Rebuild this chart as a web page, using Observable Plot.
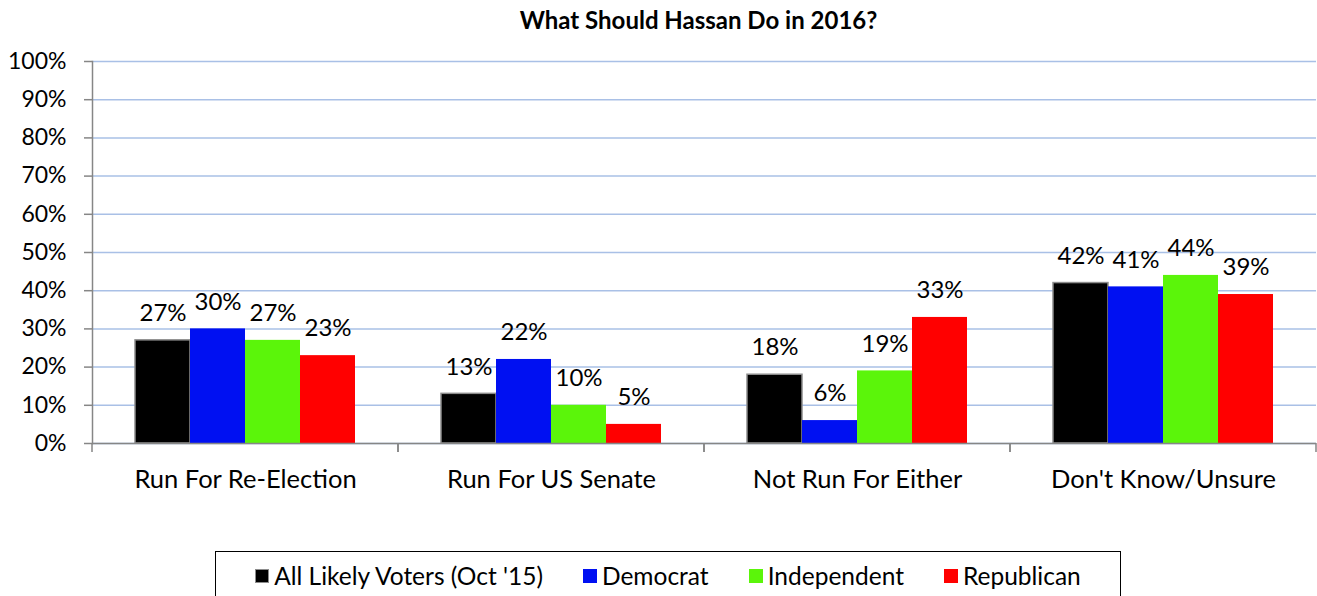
<!DOCTYPE html>
<html>
<head>
<meta charset="utf-8">
<script src="https://cdn.jsdelivr.net/npm/d3@7"></script>
<script src="https://cdn.jsdelivr.net/npm/@observablehq/plot@0.6"></script>
<style>
  html, body { margin: 0; padding: 0; background: #fff; }
  #wrap { position: relative; width: 1317px; height: 596px; overflow: hidden; font-family: Lato, "Open Sans", sans-serif; }
  #title { position: absolute; left: 80px; top: 0; width: 1237px; height: 40px; line-height: 40px; text-align: center; font-weight: bold; font-size: 24px; color: #000; }
  #chart { position: absolute; left: 0; top: 40px; }
  #legend { position: absolute; left: 215px; top: 551px; width: 906px; height: 60px; border: 1.5px solid #000; box-sizing: border-box; display: flex; justify-content: center; align-items: flex-start; gap: 40px; padding-top: 9px; font-size: 24.5px; color: #000; }
  .item { display: flex; align-items: center; }
  .sw { width: 14px; height: 14px; margin-right: 5px; box-sizing: border-box; }
</style>
</head>
<body>
<div id="wrap">
  <div id="title">What Should Hassan Do in 2016?</div>
  <div id="chart"></div>
  <div id="legend"></div>
</div>
<script>
const categories = ["Run For Re-Election", "Run For US Senate", "Not Run For Either", "Don't Know/Unsure"];
const seriesNames = ["All Likely Voters (Oct '15)", "Democrat", "Independent", "Republican"];
const allVoters = [27, 13, 18, 42];
const democrat = [30, 22, 6, 41];
const independent = [27, 10, 19, 44];
const republican = [23, 5, 33, 39];
const yTicks = [0, 10, 20, 30, 40, 50, 60, 70, 80, 90, 100];
const colors = ["#000000", "#0010F2", "#5BF50A", "#FF0000"];

const seriesValues = [allVoters, democrat, independent, republican];
const data = [];
categories.forEach((c, i) => {
  seriesNames.forEach((s, j) => {
    data.push({category: c, series: s, value: seriesValues[j][i]});
  });
});

const boundaryTicks = (index, scales) => {
  const g = d3.create("svg:g");
  const [x0, x1] = scales.x.range();
  const y0 = scales.y(0);
  for (const xx of [x0, x1]) {
    g.append("line").attr("x1", xx).attr("x2", xx).attr("y1", y0).attr("y2", y0 + 9)
      .attr("stroke", "#868686").attr("stroke-width", 1.5);
  }
  return g.node();
};

const chart = Plot.plot({
  width: 1317,
  height: 500,
  marginTop: 21,
  marginBottom: 97,
  marginLeft: 92,
  marginRight: 1,
  style: {fontFamily: "Lato, 'Open Sans', sans-serif", fontSize: "23px", color: "#000", background: "#fff"},
  fx: {domain: categories, padding: 0, label: null, axis: null},
  x: {domain: seriesNames, paddingInner: 0, paddingOuter: 0.77, axis: null},
  y: {domain: [0, 100], axis: null},
  color: {domain: seriesNames, range: colors},
  marks: [
    Plot.gridY(yTicks, {stroke: "#a9c0e6", strokeOpacity: 1, strokeWidth: 1.5}),
    Plot.barY(data, {fx: "category", x: "series", y: "value", fill: "series",
      stroke: d => d.series === seriesNames[0] ? "#8c8c8c" : "none", strokeWidth: 1.5}),
    Plot.text(data, {fx: "category", x: "series", y: "value", text: d => d.value + "%",
      dy: -27, fill: "#000", fontSize: 24, lineAnchor: "middle"}),
    Plot.ruleY([0], {stroke: "#868686", strokeWidth: 1.5}),
    Plot.frame({anchor: "left", facetAnchor: "left", stroke: "#868686", strokeWidth: 1.5}),
    Plot.axisY(yTicks, {tickFormat: d => d + "%", tickSize: 8, tickPadding: 18, stroke: "#868686", strokeWidth: 1.5, fill: "#000", label: null, fontSize: 23}),
    Plot.axisFx({anchor: "bottom", tickSize: 0, tickPadding: 26, label: null, fontSize: 25.5, fill: "#000"}),
    boundaryTicks
  ]
});
document.getElementById("chart").appendChild(chart);

const legend = document.getElementById("legend");
seriesNames.forEach((s, j) => {
  const item = document.createElement("div");
  item.className = "item";
  const sw = document.createElement("span");
  sw.className = "sw";
  sw.style.background = colors[j];
  if (j === 0) sw.style.border = "1.5px solid #8c8c8c";
  const t = document.createElement("span");
  t.textContent = s;
  item.appendChild(sw);
  item.appendChild(t);
  legend.appendChild(item);
});
</script>
</body>
</html>
